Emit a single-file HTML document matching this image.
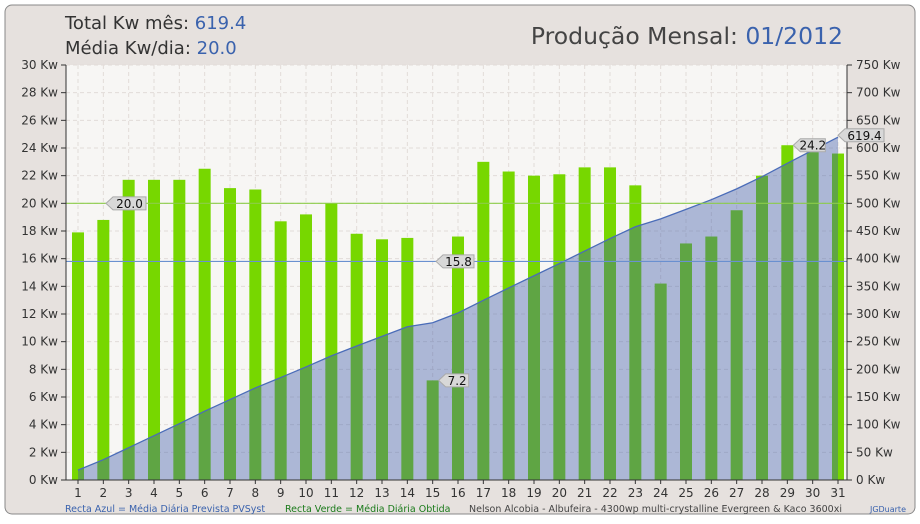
<!DOCTYPE html>
<html><head><meta charset="utf-8"><style>
body{margin:0;width:920px;height:520px;overflow:hidden;background:#fff;font-family:"DejaVu Sans","Liberation Sans",sans-serif}
</style></head><body>
<svg id="c" width="920" height="520" xmlns="http://www.w3.org/2000/svg">
<rect x="5" y="5" width="910" height="509" rx="7" fill="#e6e1de" stroke="#888"/>
<rect x="66" y="65" width="781" height="415" fill="#f7f6f4"/>
<text x="65" y="29" font-size="18" fill="#333">Total Kw mês: <tspan fill="#3a62ad">619.4</tspan></text>
<text x="65" y="54" font-size="18" fill="#333">Média Kw/dia: <tspan fill="#3a62ad">20.0</tspan></text>
<text x="843" y="44" font-size="23.5" fill="#444" text-anchor="end">Produção Mensal: <tspan fill="#3a62ad">01/2012</tspan></text>
<g id="g"></g>
<text x="65" y="512" font-size="9.5" fill="#3a62ad">Recta Azul = Média Diária Prevista PVSyst</text>
<text x="285" y="512" font-size="9.5" fill="#1a7a1a">Recta Verde = Média Diária Obtida</text>
<text x="469" y="512" font-size="9.5" fill="#444">Nelson Alcobia - Albufeira - 4300wp multi-crystalline Evergreen &amp; Kaco 3600xi</text>
<text x="906" y="512" font-size="8" fill="#3a62ad" text-anchor="end">JGDuarte</text>
</svg>
<script>
const days=[1,2,3,4,5,6,7,8,9,10,11,12,13,14,15,16,17,18,19,20,21,22,23,24,25,26,27,28,29,30,31];
const daily=[17.9,18.8,21.7,21.7,21.7,22.5,21.1,21.0,18.7,19.2,20.0,17.8,17.4,17.5,7.2,17.6,23.0,22.3,22.0,22.1,22.6,22.6,21.3,14.2,17.1,17.6,19.5,22.0,24.2,23.7,23.6];
const leftTicks=[0,2,4,6,8,10,12,14,16,18,20,22,24,26,28,30];
const rightTicks=[0,50,100,150,200,250,300,350,400,450,500,550,600,650,700,750];
const predictedAvg=15.8, obtainedAvg=20.0, total=619.4;
const NS="http://www.w3.org/2000/svg",g=document.getElementById('g');
const X0=66,X1=847,Y0=480,Y1=65;
const xs=d=>78+(d-1)*(838-78)/30;
const yL=v=>Y0-(v/30)*(Y0-Y1);
const yR=v=>Y0-(v/750)*(Y0-Y1);
function el(t,a,p){const e=document.createElementNS(NS,t);for(const k in a)e.setAttribute(k,a[k]);(p||g).appendChild(e);return e;}
days.forEach(d=>{const l=el('line',{x1:xs(d),x2:xs(d),y1:Y1,y2:Y0,stroke:'#e2dcd8','stroke-dasharray':'4,3'});

});
leftTicks.forEach(v=>{const y=yL(v);
const l=el('line',{x1:X0,x2:X1,y1:y,y2:y,stroke:'#e2dcd8','stroke-dasharray':'4,3'});


el('line',{x1:X0-5,x2:X0,y1:y,y2:y,stroke:'#333'});
const t=el('text',{x:X0-8,y:y+4,'font-size':12,fill:'#333','text-anchor':'end'});t.textContent=v+' Kw';

});
rightTicks.forEach(v=>{const y=yR(v);
el('line',{x1:X1,x2:X1+5,y1:y,y2:y,stroke:'#333'});
const t=el('text',{x:X1+9,y:y+4,'font-size':12,fill:'#333'});t.textContent=v+' Kw';

});
days.forEach((d,i)=>{const r=el('rect',{x:xs(d)-6,y:yL(daily[i]),width:12,height:Y0-yL(daily[i]),fill:'#77d700'});


const t=el('text',{x:xs(d),y:497,'font-size':12,fill:'#333','text-anchor':'middle'});t.textContent=d;


el('line',{x1:xs(d),x2:xs(d),y1:Y0,y2:Y0+4,stroke:'#333'});});
let cum=0;const pts=days.map((d,i)=>{cum+=daily[i];return [xs(d),yR(cum)];});
const pstr=pts.map(p=>p.join(',')).join(' ');
const a=el('polygon',{points:xs(1)+','+Y0+' '+pstr+' '+xs(31)+','+Y0,fill:'rgba(60,90,170,0.4)'});


const pl=el('polyline',{points:pstr,fill:'none',stroke:'#4a6cb8','stroke-width':1.3});


const bl=el('line',{x1:X0,x2:X1,y1:yL(predictedAvg),y2:yL(predictedAvg),stroke:'#6a90d0','stroke-width':1.2});


const gl=el('line',{x1:X0,x2:X1,y1:yL(obtainedAvg),y2:yL(obtainedAvg),stroke:'#8ccc4a','stroke-width':1.2});


el('line',{x1:X0,x2:X0,y1:Y1,y2:Y0,stroke:'#333'});el('line',{x1:X1,x2:X1,y1:Y1,y2:Y0,stroke:'#333'});el('line',{x1:X0,x2:X1,y1:Y0,y2:Y0,stroke:'#333'});
function tag(x,y,txt,w,name){const h=13;
const p=el('polygon',{points:`${x},${y} ${x+7},${y-h/2} ${x+w},${y-h/2} ${x+w},${y+h/2} ${x+7},${y+h/2}`,fill:'#d8d8d8',stroke:'#aaa'});


const t=el('text',{x:x+(w+7)/2,y:y+4.5,'font-size':12,fill:'#111','text-anchor':'middle'});t.textContent=txt;

}
tag(106,yL(obtainedAvg),obtainedAvg.toFixed(1),40,'obtained-average-tag');
tag(436,yL(predictedAvg),predictedAvg.toFixed(1),38,'predicted-average-tag');
const mi=daily.indexOf(Math.min(...daily));tag(xs(days[mi])+6,yL(daily[mi]),daily[mi].toFixed(1),30,'min-day-tag');
const ma=daily.indexOf(Math.max(...daily));tag(xs(days[ma])+6,yL(daily[ma]),daily[ma].toFixed(1),32,'max-day-tag');
tag(838,yR(total)-2,total.toFixed(1),46,'total-tag');
</script>
</body></html>
